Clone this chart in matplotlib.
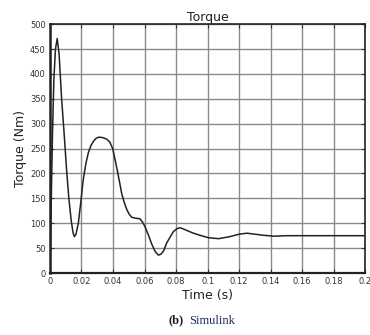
import matplotlib
matplotlib.use("Agg")
import matplotlib.pyplot as plt

time_s = [0.0, 0.0008, 0.0016, 0.0025, 0.0035, 0.0046, 0.0058, 0.0074, 0.0090, 0.0106,
          0.0120, 0.0135, 0.0147, 0.0155, 0.0165, 0.0180, 0.0196, 0.0211, 0.0228, 0.0243,
          0.0260, 0.0275, 0.0290, 0.0310, 0.0335, 0.0360, 0.0380, 0.0398, 0.0413, 0.0428,
          0.0442, 0.0455, 0.0470, 0.0487, 0.0503, 0.0519, 0.0545, 0.0571, 0.0588, 0.0603,
          0.0625, 0.0646, 0.0668, 0.0688, 0.0705, 0.0722, 0.0740, 0.0762, 0.0783, 0.0805,
          0.0825, 0.0850, 0.0880, 0.0910, 0.0960, 0.1005, 0.1070, 0.1140, 0.1200, 0.1250,
          0.1300, 0.1350, 0.1420, 0.1500, 0.1590, 0.1700, 0.1850, 0.2000]
torque_nm = [0, 140, 280, 390, 450, 471, 440, 350, 280, 205,
             150, 105, 80, 73, 78, 100, 143, 187, 220, 241,
             256, 264, 270, 273, 272, 269, 263, 250, 228, 205,
             182, 160, 143, 128, 118, 112, 110, 109, 102, 93,
             76, 58, 43, 36, 38, 45, 60, 72, 83, 89,
             91, 88, 84, 80, 75, 71, 69, 73, 78, 80,
             78, 76, 74, 75, 75, 75, 75, 75]

x_ticks = [0, 0.02, 0.04, 0.06, 0.08, 0.1, 0.12, 0.14, 0.16, 0.18, 0.2]
x_tick_labels = ["0", "0.02", "0.04", "0.06", "0.08", "0.1", "0.12", "0.14", "0.16", "0.18", "0.2"]
y_ticks = [0, 50, 100, 150, 200, 250, 300, 350, 400, 450, 500]

fig = plt.figure(figsize=(3.7, 3.35), dpi=100)
ax = fig.add_axes([0.135, 0.185, 0.852, 0.743])
ax.plot(time_s, torque_nm, color="#222222", lw=1.1)
ax.set_xlim(0, 0.2)
ax.set_ylim(0, 500)
ax.set_xticks(x_ticks)
ax.set_xticklabels(x_tick_labels)
ax.set_yticks(y_ticks)
ax.grid(True, color="#8a8a8a", lw=1.0)
ax.tick_params(direction="in", length=3, labelsize=6, colors="#333333", pad=3,
               top=True, right=True)
for s in ax.spines.values():
    s.set_color("#222222")
    s.set_linewidth(1.2)
ax.spines["left"].set_linewidth(1.8)
ax.spines["bottom"].set_linewidth(1.6)
ax.set_title("Torque", fontsize=9, color="#222222", pad=2)
ax.set_xlabel("Time (s)", fontsize=9, color="#222222", labelpad=2)
ax.set_ylabel("Torque (Nm)", fontsize=9, color="#222222", labelpad=2)
fig.text(0.497, 0.043, "(b)", ha="right", va="center", fontweight="bold",
         family="Liberation Serif", fontsize=9, color="#1a1a2a")
fig.text(0.510, 0.043, "Simulink", ha="left", va="center",
         family="Liberation Serif", fontsize=9, color="#1a2a5a")
fig.savefig("out.png", dpi=100)
